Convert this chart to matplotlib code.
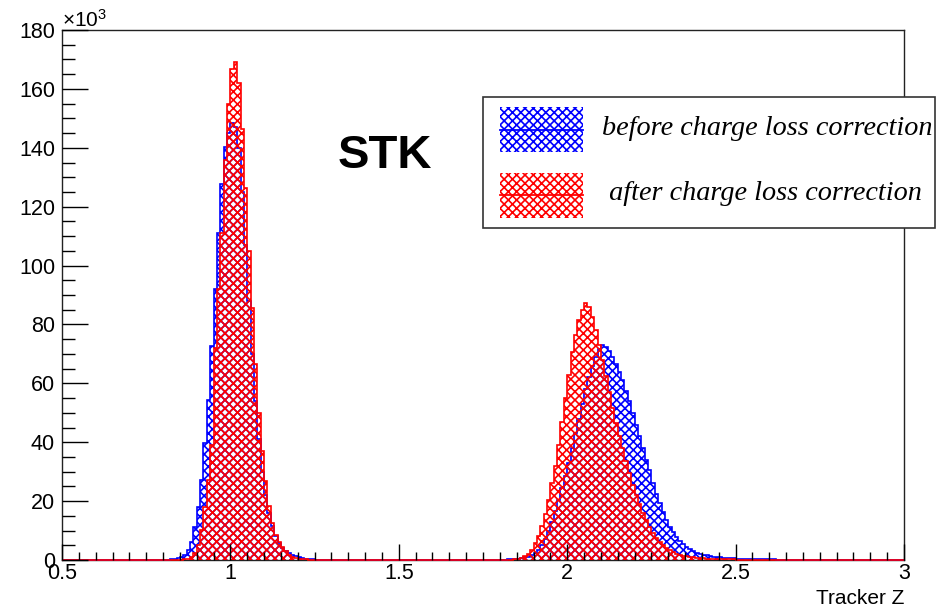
"""
Tracker Z distribution from the STK for the Z=1 and Z=2 peaks, before and after
the charge loss correction. Bin contents are in units of 10^3 entries, 0.01 wide.
"""
#%% Import libraries ###########################################################
import numpy as np
import matplotlib
matplotlib.use('Agg')
import matplotlib.pyplot as plt
from matplotlib.patches import Rectangle
from matplotlib.lines import Line2D
from matplotlib.ticker import MultipleLocator, FuncFormatter

#%% Data #######################################################################
# Histogram binning
z_min = 0.5
z_max = 3.0
bin_width = 0.01

# Before correction (10^3 entries per bin), each list starts at the given bin
before_z1_start = 0.80
before_z1 = [0.05, 0.1, 0.18, 0.3, 0.55, 1.0, 1.8, 3.4, 6.2, 11.3,
             18.1, 27.2, 39.6, 54.3, 72.8, 91.9, 111.2, 127.7, 140.2, 145,
             148.3, 147, 140, 125, 107, 88, 70, 54, 41, 30,
             22, 16, 11.5, 8.2, 5.8, 4.2, 3.1, 2.3, 1.7, 1.25,
             0.9, 0.65, 0.45, 0.32, 0.22, 0.15, 0.1, 0.07, 0.05]
before_z2_start = 1.77
before_z2 = [0.05, 0.07, 0.09, 0.12, 0.16, 0.21, 0.28, 0.36, 0.47, 0.62,
             0.85, 1.15, 1.6, 2.3, 3.4, 5.0, 7.3, 10, 13, 16.5,
             20.5, 24.5, 28.5, 33, 38, 43, 48, 53, 58, 62,
             66, 69, 71.5, 73, 72.5, 71, 69, 66.5, 64, 61,
             57.5, 54, 50, 46, 42, 38, 34, 30.5, 26, 22.5,
             19.2, 16.4, 13.6, 11.3, 9.6, 7.9, 6.6, 5.4, 4.4, 3.6,
             3.0, 2.5, 2.1, 1.8, 1.55, 1.3, 1.1, 0.95, 0.85, 0.75,
             0.65, 0.58, 0.52, 0.47, 0.43, 0.39, 0.36, 0.33, 0.3, 0.27,
             0.25, 0.23, 0.21, 0.19, 0.17, 0.15, 0.13, 0.12, 0.1, 0.09,
             0.08, 0.07, 0.06, 0.05]

# After correction
after_z1_start = 0.84
after_z1 = [0.1, 0.15, 0.25, 0.5, 1.1, 2.3, 5.1, 10.2, 18.1, 27.2,
            39, 72, 92, 111, 136, 155, 166.7, 169, 162, 146.5,
            126.5, 105, 85.5, 66.5, 50, 37, 27, 18.5, 12.5, 8.5,
            6.0, 4.3, 2.9, 1.8, 1.1, 0.7, 0.45, 0.3, 0.2, 0.12,
            0.08, 0.05]
after_z2_start = 1.82
after_z2 = [0.1, 0.15, 0.25, 0.4, 0.7, 1.2, 2.0, 3.5, 5.8, 8.2,
            11.5, 15.5, 20.5, 26, 32, 39, 47, 55, 63, 70.5,
            76.5, 81.5, 85, 87.2, 86, 82.5, 78, 73, 68, 62.5,
            57, 51.5, 46.5, 42, 38, 33.5, 29.5, 25.5, 22, 19,
            16, 13.5, 11.3, 9.3, 7.6, 6.2, 5.0, 4.0, 3.3, 2.7,
            2.2, 1.8, 1.5, 1.25, 1.05, 0.9, 0.75, 0.65, 0.55, 0.48,
            0.42, 0.37, 0.32, 0.28, 0.25, 0.22, 0.2, 0.18, 0.16, 0.14,
            0.12, 0.1, 0.09, 0.08, 0.07, 0.06, 0.05]

labels = ['before charge loss correction', ' after charge loss correction']
colors = ['blue', 'red']

#%% Style ######################################################################
plt.rcParams['font.family'] = ['Liberation Sans', 'DejaVu Sans']
plt.rcParams['mathtext.fontset'] = 'custom'
plt.rcParams['mathtext.rm'] = 'Liberation Sans'
plt.rcParams['mathtext.it'] = 'Liberation Sans:italic'
plt.rcParams['hatch.linewidth'] = 1.2
HATCH = 'xxxx'

#%% Main #######################################################################
def main():
    """
    Main function
    """
    n_bins = int(round((z_max - z_min) / bin_width))
    edges = z_min + bin_width * np.arange(n_bins + 1)

    before = fill_bins(n_bins, [(before_z1_start, before_z1), (before_z2_start, before_z2)])
    after = fill_bins(n_bins, [(after_z1_start, after_z1), (after_z2_start, after_z2)])

    plot_hists(edges, [before, after], savepath='out.png')

#%% Build histogram ############################################################
def fill_bins(n_bins, pieces):
    """
    Puts the listed bin contents into a full array of n_bins
    Inputs:
        - n_bins - total number of bins
        - pieces - list of (first bin low edge, contents)
    """
    h = np.zeros(n_bins)
    for start, vals in pieces:
        i0 = int(round((start - z_min) / bin_width))
        h[i0:i0 + len(vals)] = vals
    return h

#%% Plot #######################################################################
def plot_hists(edges, hists, savepath=None):
    """
    Draws the hatched histograms, the axis decoration and the legend box
    """
    fig = plt.figure(figsize=(9.48, 6.07), dpi=100)
    ax = fig.add_axes([62/948, 1 - 560/607, (904 - 62)/948, (560 - 30)/607])

    for h, c in zip(hists, colors):
        ax.stairs(h, edges, fill=True, facecolor='none', edgecolor=c,
                  hatch=HATCH, linewidth=1.2, zorder=2.6, clip_on=False)

    ax.set_xlim(z_min, z_max)
    ax.set_ylim(0, 180)

    # ROOT-like axes: inward ticks on the bottom and left only
    ax.xaxis.set_major_locator(MultipleLocator(0.5))
    ax.xaxis.set_minor_locator(MultipleLocator(0.05))
    ax.yaxis.set_major_locator(MultipleLocator(20))
    ax.yaxis.set_minor_locator(MultipleLocator(5))
    ax.xaxis.set_major_formatter(FuncFormatter(lambda v, p: '%g' % v))
    ax.yaxis.set_major_formatter(FuncFormatter(lambda v, p: '%g' % v))
    ax.tick_params(axis='x', which='major', direction='in', length=11.5, width=1,
                   labelsize=15.5, pad=2.5)
    ax.tick_params(axis='x', which='minor', direction='in', length=5.8, width=1)
    ax.tick_params(axis='y', which='major', direction='in', length=18.5, width=1,
                   labelsize=15.5, pad=5)
    ax.tick_params(axis='y', which='minor', direction='in', length=9, width=1)
    ax.xaxis.set_zorder(3)
    ax.yaxis.set_zorder(3)
    for s in ax.spines.values():
        s.set_linewidth(1.0)
        s.set_color('#222222')

    ax.text(0.0, 1.006, '\u00d710$^{3}$', transform=ax.transAxes, fontsize=15,
            ha='left', va='baseline')
    ax.text(0.384, 0.739, 'STK', transform=ax.transAxes, fontsize=34,
            fontweight='bold', ha='center', va='baseline')
    fig.text(904/948, 1 - 604/607, 'Tracker Z', fontsize=15, ha='right', va='baseline')

    draw_legend(fig)

    fig.savefig(savepath, dpi=100, facecolor='white')

#%% Legend #####################################################################
def draw_legend(fig):
    """
    Legend box drawn in figure pixels, it runs past the right edge of the frame
    """
    W, H = 948.0, 607.0
    fx = lambda px: px / W
    fy = lambda py: 1 - py / H

    fig.add_artist(Rectangle((fx(483), fy(228)), fx(935) - fx(483), fy(97) - fy(228),
                             transform=fig.transFigure, facecolor='white',
                             edgecolor='#333333', linewidth=1.2, zorder=5))
    box_tops = [107, 173]
    baselines = [135, 200]
    for top, base, c, lab in zip(box_tops, baselines, colors, labels):
        fig.add_artist(Rectangle((fx(500), fy(top + 45)), fx(583) - fx(500), fy(top) - fy(top + 45),
                                 transform=fig.transFigure, facecolor='none', edgecolor=c,
                                 hatch=HATCH, linewidth=0, zorder=6))
        fig.add_artist(Line2D([fx(500), fx(583)], [fy(top + 22.5)] * 2,
                              transform=fig.transFigure, color=c, linewidth=1.3, zorder=7))
        fig.text(fx(602), fy(base), lab, fontsize=20.3, family='Liberation Serif',
                 style='italic', ha='left', va='baseline', zorder=8)

#%% Run main ###################################################################
if __name__ == '__main__':
    main()
